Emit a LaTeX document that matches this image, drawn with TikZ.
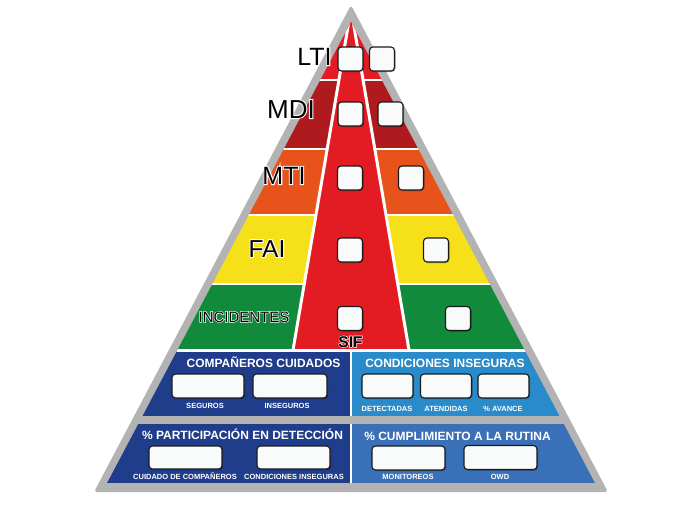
\documentclass[tikz,border=0pt]{standalone}
\usepackage{fontspec}
\setmainfont{Liberation Sans}
\usetikzlibrary{shadows}
\definecolor{frame}{HTML}{B3B3B3}
\definecolor{ltired}{HTML}{E31B23}
\definecolor{mdired}{HTML}{AE1A1E}
\definecolor{mtiorange}{HTML}{E8531B}
\definecolor{faiyellow}{HTML}{F5E01A}
\definecolor{incgreen}{HTML}{118A3C}
\definecolor{navy}{HTML}{1F3D8B}
\definecolor{skyblue}{HTML}{2A8BCB}
\definecolor{midblue}{HTML}{3A70B8}
\definecolor{boxfill}{HTML}{F9FAFA}
\definecolor{boxline}{HTML}{1A1A1A}
\newcommand\glowtext[2]{\makebox[0pt][l]{\textcolor{white}{\addfontfeature{FakeBold=#1}#2}}#2}
\tikzset{
  cell/.style={draw=boxline, fill=boxfill, line width=1.1pt, rounded corners=3.5pt, inner sep=0pt,
    minimum width=25pt, minimum height=24pt,
    drop shadow={shadow xshift=1pt, shadow yshift=-1pt, opacity=0.35, fill=black}},
  wcell/.style={cell, minimum width=73pt, minimum height=24pt},
  mcell/.style={cell, minimum width=51pt, minimum height=24pt},
  lvl/.style={anchor=base, inner sep=0pt, font=\fontsize{25}{25}\selectfont},
  ptitle/.style={anchor=base, inner sep=0pt, text=white, font=\bfseries\fontsize{12}{12}\selectfont},
  plabel/.style={anchor=base, inner sep=0pt, text=white, font=\bfseries\fontsize{7.5}{7.5}\selectfont},
  sep/.style={white, line width=2.5pt},
}
\begin{document}
\begin{tikzpicture}[x=1pt,y=-1pt]
\useasboundingbox (0,0) rectangle (696,512);
\fill[white] (0,0) rectangle (696,512);
% outer frame
\fill[frame, rounded corners=3pt] (351,5) -- (608,492) -- (94,492) -- cycle;
\begin{scope}
  \clip (351,22) -- (596,485) -- (106,485) -- cycle;
  \fill[ltired] (90,0) rectangle (610,80);
  \fill[mdired] (90,80) rectangle (610,149);
  \fill[mtiorange] (90,149) rectangle (610,215);
  \fill[faiyellow] (90,215) rectangle (610,284);
  \fill[incgreen] (90,284) rectangle (610,350);
  \draw[sep] (90,80) -- (610,80);
  \draw[sep] (90,149) -- (610,149);
  \draw[sep] (90,215) -- (610,215);
  \draw[sep] (90,284) -- (610,284);
  \filldraw[fill=ltired, draw=white, line width=3pt] (351,9) -- (409.5,353) -- (292.5,353) -- cycle;
  \fill[navy] (90,351) rectangle (351,416);
  \fill[skyblue] (351,351) rectangle (610,416);
  \fill[navy] (90,424) rectangle (351,483);
  \fill[midblue] (351,424) rectangle (610,483);
  \draw[sep] (90,350.5) -- (610,350.5);
  \draw[white, line width=2.2pt] (351,351) -- (351,416);
  \draw[white, line width=2.2pt] (351,424) -- (351,483);
\end{scope}
% level labels
\node[lvl] (lti) at (314.5,65) {\glowtext{8}{LTI}};
\node[lvl, font=\fontsize{26}{26}\selectfont] (mdi) at (291,118) {\glowtext{8}{MDI}};
\node[lvl] (mti) at (284,184) {\glowtext{8}{MTI}};
\node[lvl, font=\fontsize{24.5}{24.5}\selectfont] (fai) at (267,257) {\glowtext{8}{FAI}};
\node[lvl, font=\fontsize{15}{15}\selectfont] (inc) at (244,322) {\glowtext{8}{INCIDENTES}};
\node[lvl, font=\bfseries\fontsize{15.5}{15.5}\selectfont] (sif) at (350.5,347) {\glowtext{8}{SIF}};
% level cells
\node[cell] (c1l) at (350.5,59) {};
\node[cell] (c1r) at (382,59) {};
\node[cell] (c2l) at (350.5,114) {};
\node[cell] (c2r) at (390.5,114) {};
\node[cell] (c3l) at (350,178) {};
\node[cell] (c3r) at (411,178) {};
\node[cell] (c4l) at (350,250) {};
\node[cell] (c4r) at (436,250) {};
\node[cell] (c5l) at (350,318.5) {};
\node[cell] (c5r) at (458,318.5) {};
% panel titles
\node[ptitle] (t1) at (263.5,367) {COMPAÑEROS CUIDADOS};
\node[ptitle] (t2) at (445,367) {CONDICIONES INSEGURAS};
\node[ptitle] (t3) at (242.5,439.5) {\% PARTICIPACIÓN EN DETECCIÓN};
\node[ptitle] (t4) at (457.5,440) {\% CUMPLIMIENTO A LA RUTINA};
% panel cells
\node[wcell, minimum width=72pt] (p1a) at (208,386) {};
\node[wcell, minimum width=74pt] (p1b) at (290,386) {};
\node[mcell] (p2a) at (387.5,386) {};
\node[mcell] (p2b) at (446,386) {};
\node[mcell] (p2c) at (503.5,386) {};
\node[wcell, minimum height=23pt] (p3a) at (185.5,457.5) {};
\node[wcell, minimum height=23pt] (p3b) at (293.5,457.5) {};
\node[wcell] (p4a) at (408.5,458) {};
\node[wcell] (p4b) at (500.5,457.5) {};
% panel labels
\node[plabel] (l1a) at (205,408.5) {SEGUROS};
\node[plabel] (l1b) at (287,408.5) {INSEGUROS};
\node[plabel] (l2a) at (387,411) {DETECTADAS};
\node[plabel] (l2b) at (446,411) {ATENDIDAS};
\node[plabel] (l2c) at (503,411) {\% AVANCE};
\node[plabel] (l3a) at (185,479.5) {CUIDADO DE COMPAÑEROS};
\node[plabel] (l3b) at (294,479.5) {CONDICIONES INSEGURAS};
\node[plabel] (l4a) at (408,479.5) {MONITOREOS};
\node[plabel] (l4b) at (500,479.5) {OWD};
\end{tikzpicture}
\end{document}
